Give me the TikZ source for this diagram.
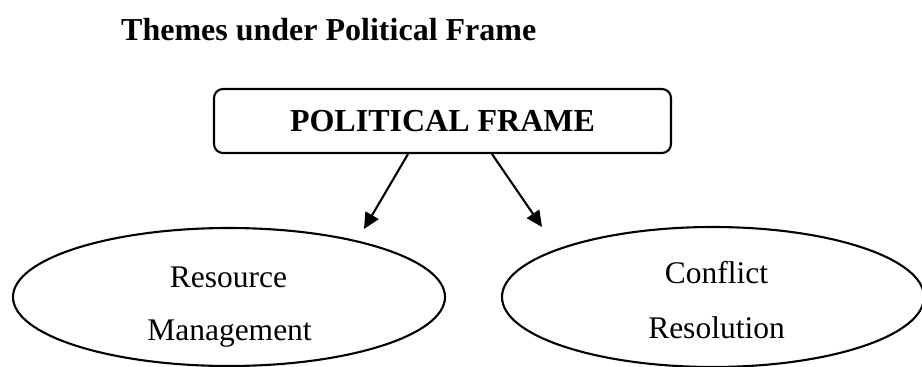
\documentclass[tikz,border=0pt]{standalone}
\usepackage{fontspec}
\setmainfont{Liberation Serif}
\usetikzlibrary{arrows.meta,shapes.geometric}
\begin{document}
\begin{tikzpicture}[x=1pt,y=-1pt,
  thick line/.style={line width=2.1pt},
  framebox/.style={draw,thick line,rounded corners=9pt,minimum width=457pt,minimum height=64pt,inner sep=0pt,font=\fontsize{32}{38}\selectfont\bfseries},
  theme/.style={draw,thick line,ellipse,inner sep=0pt},
  lbl/.style={anchor=base,font=\fontsize{31.5}{38}\selectfont,inner sep=0pt},
  arr/.style={thick line,-{Triangle[length=16pt,width=15pt]}}]
\useasboundingbox (0,0) rectangle (922,367);
\node[anchor=base west,inner sep=0pt,font=\fontsize{32}{38}\selectfont\bfseries] (title) at (121,40) {Themes under Political Frame};
\node[framebox] (pf) at (442.5,121) {POLITICAL FRAME};
\node[theme,minimum width=432pt,minimum height=138pt] (rm) at (229,297) {};
\node[theme,minimum width=422pt,minimum height=140pt] (cr) at (713,297) {};
\node[lbl] (rm1) at (228.5,287) {Resource};
\node[lbl] (rm2) at (229.5,340) {Management};
\node[lbl] (cr1) at (716.5,283) {Conflict};
\node[lbl] (cr2) at (716.5,338) {Resolution};
\coordinate (tipL) at (364,229);
\coordinate (tipR) at (542,227);
\draw[arr] ([xshift=-34.5pt]pf.south) -- (tipL);
\draw[arr] ([xshift=49.5pt]pf.south) -- (tipR);
\end{tikzpicture}
\end{document}
